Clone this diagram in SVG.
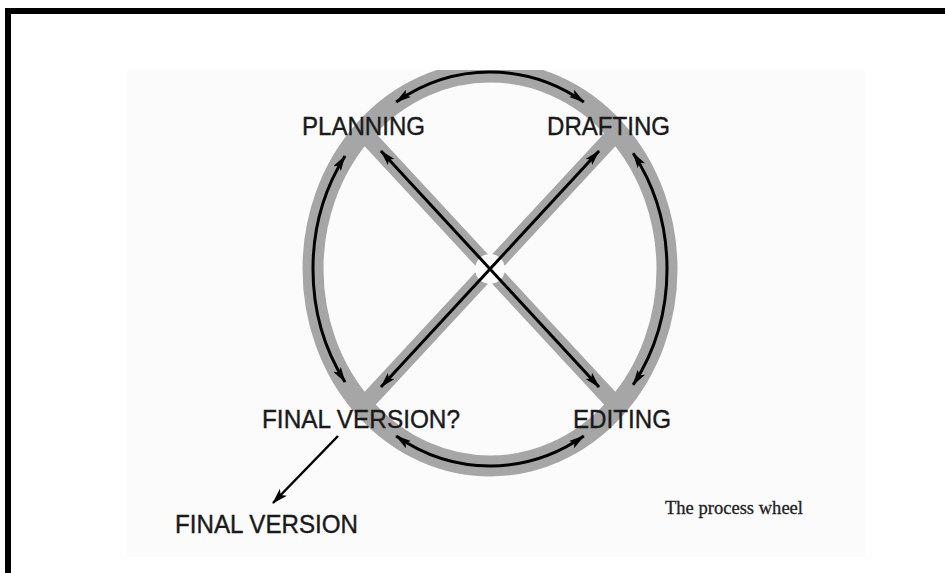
<svg xmlns="http://www.w3.org/2000/svg" width="945" height="573" viewBox="0 0 945 573">
<style>
.lbl{font-family:"Liberation Sans",Arial,sans-serif;font-size:26px;fill:#1a1a1a;stroke:#1a1a1a;stroke-width:0.4}
.cap{font-family:"Liberation Serif","Times New Roman",serif;font-size:19px;fill:#222;stroke:#222;stroke-width:0.3}
.band{fill:none;stroke:#a6a6a6}
.arr{fill:none;stroke:#000;stroke-width:3;marker-start:url(#ah);marker-end:url(#ah)}
</style>
<defs>
<marker id="ah" viewBox="0 0 16 9" refX="15" refY="4.5" markerWidth="16" markerHeight="9" markerUnits="userSpaceOnUse" orient="auto-start-reverse">
<path d="M0,0 L16,4.5 L0,9 L3.5,4.5 z" fill="#000"/>
</marker>
<marker id="ah2" viewBox="0 0 16 10" refX="15" refY="5" markerWidth="16" markerHeight="10" markerUnits="userSpaceOnUse" orient="auto">
<path d="M0,0 L16,5 L0,10 L4,5 z" fill="#000"/>
</marker>
<clipPath id="pic"><rect x="127" y="70" width="738" height="487"/></clipPath>
</defs>
<rect width="945" height="573" fill="#fff"/>
<rect x="127" y="70" width="738" height="487" fill="#fbfbfb"/>
<rect x="5" y="8" width="940" height="6" fill="#000"/>
<rect x="5" y="8" width="6" height="565" fill="#000"/>
<g clip-path="url(#pic)">
<g id="wheel">
<ellipse class="band" cx="490" cy="269" rx="177" ry="197" stroke-width="21"/>
<line class="band" x1="363" y1="132" x2="617" y2="406" stroke-width="17"/>
<line class="band" x1="617" y1="132" x2="363" y2="406" stroke-width="17"/>
<circle cx="490" cy="269" r="15" fill="#fbfbfb"/>
</g>
<g id="connectors">
<path class="arr" d="M396.2,101.9 A177,197 0 0,1 583.8,101.9"/>
<path class="arr" d="M633.2,153.2 A177,197 0 0,1 633.2,384.8"/>
<path class="arr" d="M583.8,436.1 A177,197 0 0,1 396.2,436.1"/>
<path class="arr" d="M345,382 A177,197 0 0,1 345,156"/>
<line class="arr" x1="381" y1="151" x2="599" y2="387"/>
<line class="arr" x1="599" y1="151" x2="381" y2="387"/>
<line x1="338" y1="436" x2="273" y2="503" stroke="#000" stroke-width="2.5" marker-end="url(#ah2)"/>
</g>
</g>
<g id="planning"><text class="lbl" x="302" y="135" textLength="123" lengthAdjust="spacingAndGlyphs">PLANNING</text></g>
<g id="drafting"><text class="lbl" x="547" y="135" textLength="123" lengthAdjust="spacingAndGlyphs">DRAFTING</text></g>
<g id="final-question"><text class="lbl" x="262" y="428" textLength="198" lengthAdjust="spacingAndGlyphs">FINAL VERSION?</text></g>
<g id="editing"><text class="lbl" x="573" y="428" textLength="98" lengthAdjust="spacingAndGlyphs">EDITING</text></g>
<g id="final"><text class="lbl" x="175" y="533" textLength="183" lengthAdjust="spacingAndGlyphs">FINAL VERSION</text></g>
<g id="caption"><text class="cap" x="665" y="514" textLength="138" lengthAdjust="spacingAndGlyphs">The process wheel</text></g>
</svg>
